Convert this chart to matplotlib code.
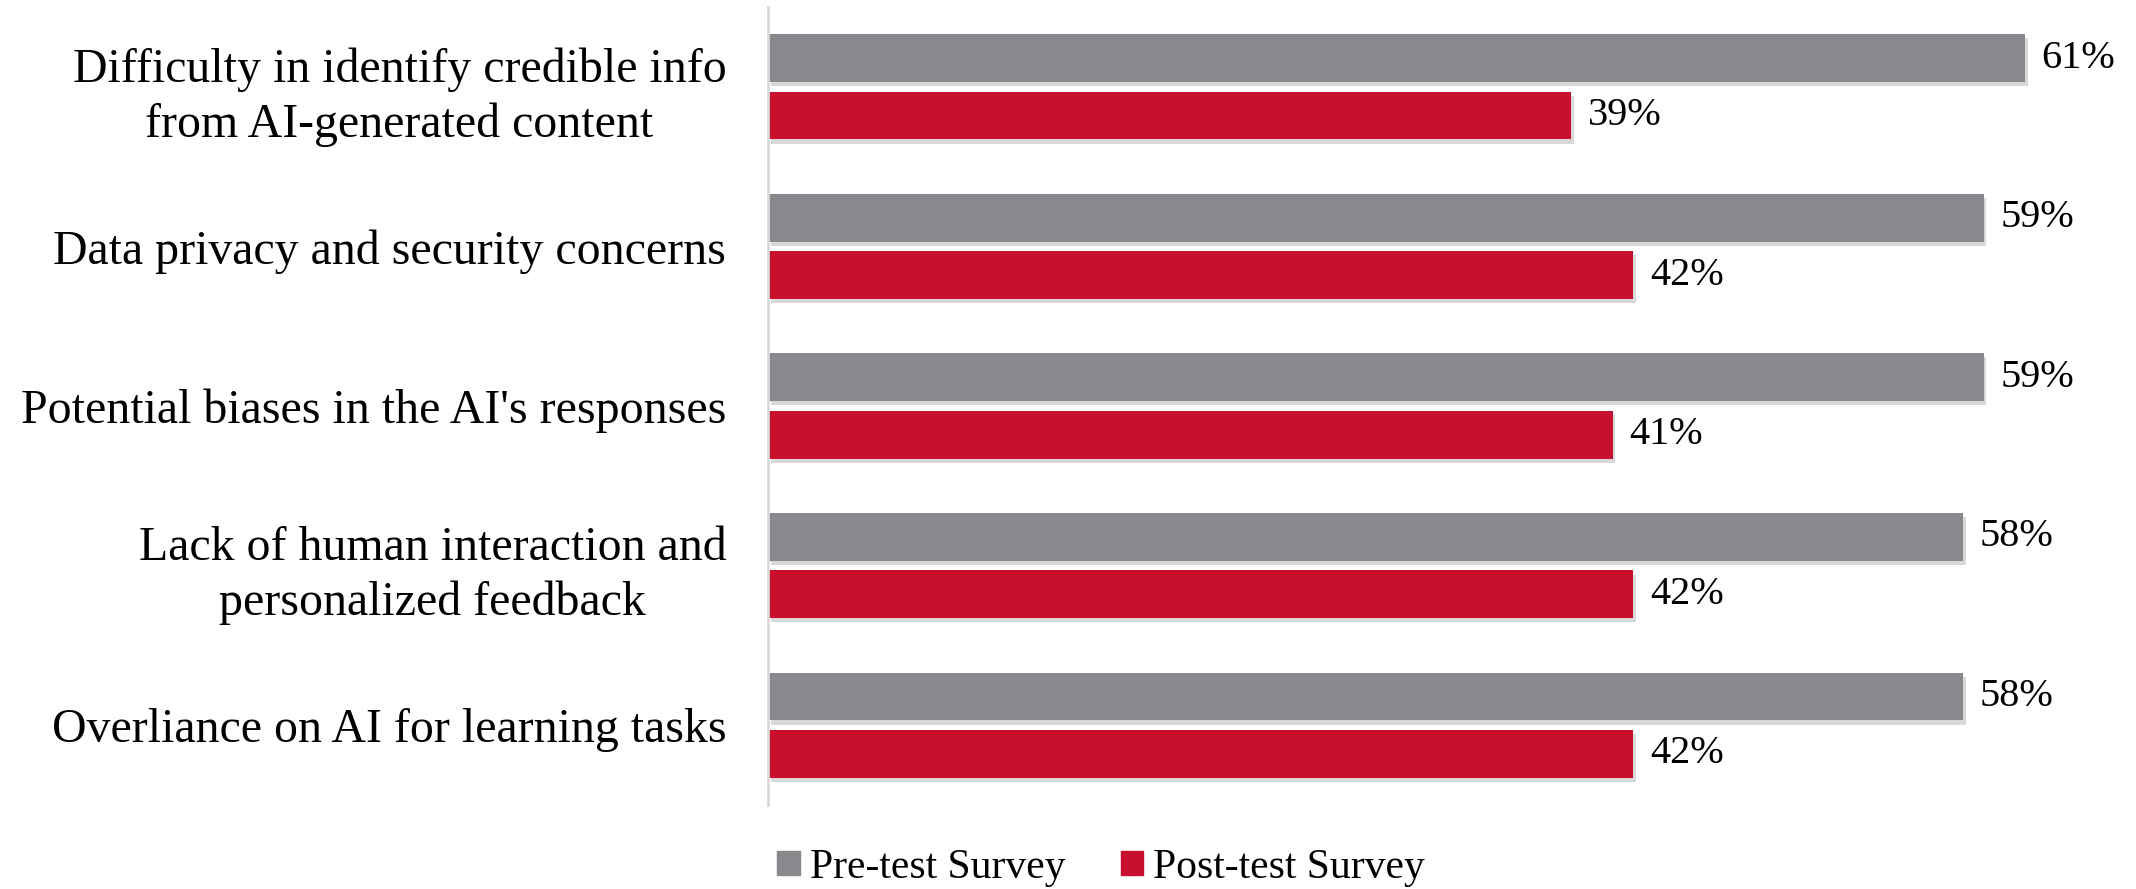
import matplotlib
matplotlib.use("Agg")
import matplotlib.pyplot as plt
import matplotlib.patches as patches
import matplotlib.patheffects as pe
import numpy as np

# data (top to bottom)
categories = [
    "Difficulty in identify credible info\nfrom AI-generated content",
    "Data privacy and security concerns",
    "Potential biases in the AI's responses",
    "Lack of human interaction and\npersonalized feedback",
    "Overliance on AI for learning tasks",
]
pre_test = [61, 59, 59, 58, 58]
post_test = [39, 42, 41, 42, 42]
series_names = ["Pre-test Survey", "Post-test Survey"]

### colors
preColor = "#87898C"
postColor = "#C8102E"
axisColor = "#D9D9D9"

plt.rcParams["font.family"] = ["Liberation Serif", "DejaVu Serif"]

fig = plt.figure(figsize=(21.36, 8.89), dpi=100)
ax = fig.add_axes([768 / 2136, 84 / 889, 1 - 768 / 2136, 798 / 889])

y = np.arange(len(categories))
barH = 0.3
off = 0.18
shadow = [pe.SimplePatchShadow(offset=(2, -3), shadow_rgbFace="#808080", alpha=0.3), pe.Normal()]

preBars = ax.barh(y - off, pre_test, height=barH, color=preColor, path_effects=shadow)
postBars = ax.barh(y + off, post_test, height=barH, color=postColor, path_effects=shadow)

for bars, vals in ((preBars, pre_test), (postBars, post_test)):
    for b, v in zip(bars, vals):
        ax.annotate("{}%".format(v), (b.get_width(), b.get_y() + b.get_height() / 2),
                    xytext=(12, 0), textcoords="offset points",
                    ha="left", va="center", fontsize=29, color="black")

ax.set_xlim(0, 66.4)
ax.set_ylim(len(categories) - 0.5, -0.5)
ax.set_yticks(y)
ax.set_yticklabels(categories, fontsize=34.5, linespacing=1.3)
for lbl in ax.get_yticklabels():
    lbl.set_multialignment("center")
ax.tick_params(axis="y", length=0, pad=30)
ax.set_xticks([])

for s in ("top", "right", "bottom"):
    ax.spines[s].set_visible(False)
ax.spines["left"].set_color(axisColor)
ax.spines["left"].set_linewidth(2)

handles = [patches.Patch(color=preColor), patches.Patch(color=postColor)]
fig.legend(handles, series_names, loc="center", bbox_to_anchor=(0.5155, 0.024),
           ncol=2, frameon=False, fontsize=30, handlelength=0.53, handleheight=0.5,
           handletextpad=0.24, columnspacing=1.34, borderpad=0)

fig.savefig("out.png", dpi=100)
